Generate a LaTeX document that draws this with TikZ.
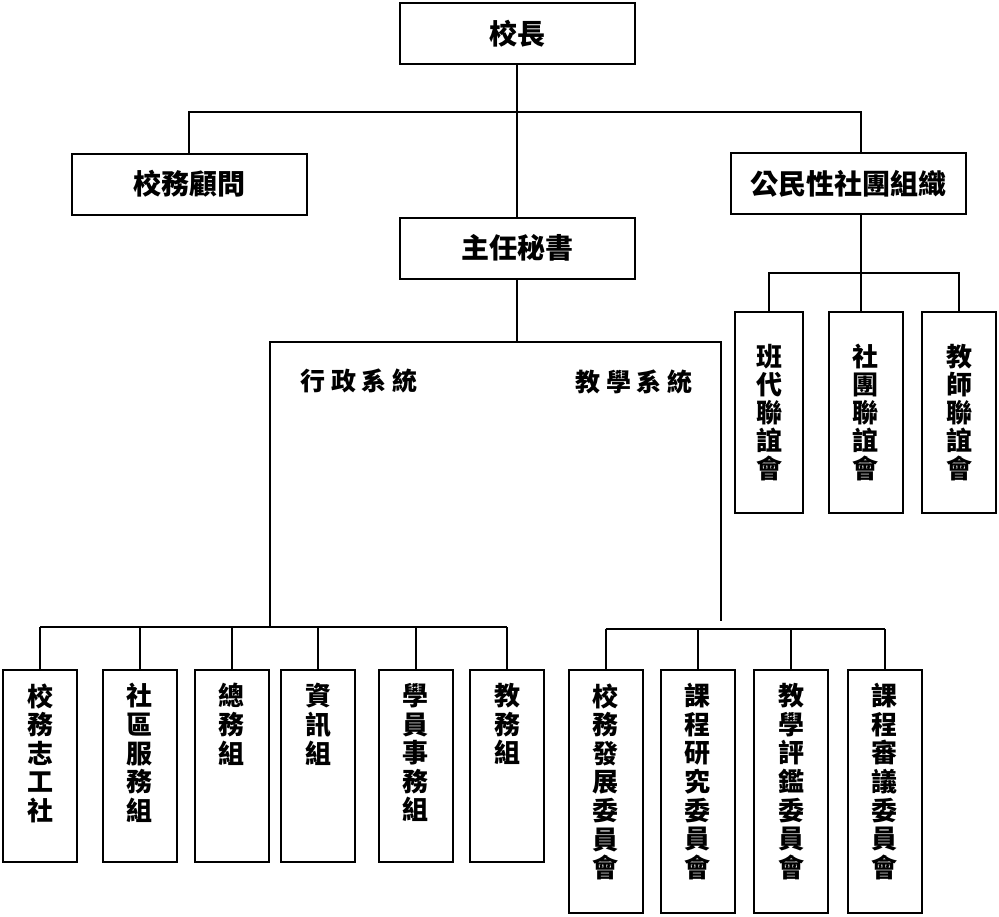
\documentclass[tikz,border=0pt]{standalone}
\usepackage{fontspec}
\usepackage{tikz}
\usetikzlibrary{positioning}
\newfontfamily\cjk{Noto Sans CJK TC}
\newfontfamily\cjksp{Noto Sans CJK TC}[LetterSpace=22]

\begin{document}
\begin{tikzpicture}[
    x=0.5pt, y=-0.5pt,
    box/.style={rectangle, draw, line width=1pt, minimum width=117.5pt, minimum height=30.5pt, inner sep=0pt, font=\cjk\bfseries\fontsize{14pt}{16pt}\selectfont},
    clubbox/.style={rectangle, draw, line width=1pt, minimum width=37pt, minimum height=100.5pt, inner sep=0pt, align=center, font=\cjk\bfseries\fontsize{13pt}{14pt}\selectfont},
    colbox/.style={rectangle, draw, line width=1pt, minimum width=37pt, minimum height=#1, inner sep=0pt},
    coltext/.style={inner sep=0pt, align=center, font=\cjk\bfseries\fontsize{13pt}{14.3pt}\selectfont},
    syslabel/.style={inner sep=0pt, font=\cjksp\bfseries\fontsize{12.5pt}{14pt}\selectfont},
    link/.style={line width=1pt}
]
    \useasboundingbox (0,0) rectangle (999,916);

    % Top level
    \node[box] (pres) at (517,33.5) {校長};
    \node[box] (adv) at (189,184) {校務顧問};
    \node[box] (civic) at (848.5,183.5) {公民性社團組織};
    \node[box] (sec) at (517,248) {主任秘書};

    \coordinate (topbus) at (517,112);
    \draw[link] (pres.south) -- (sec.north);
    \draw[link] (adv.north) |- (topbus) -| ([xshift=6pt]civic.north);

    % Clubs
    \node[clubbox, minimum width=34pt] (banji) at (769,412.5) {班\\代\\聯\\誼\\會};
    \node[clubbox] (tuan) at (865.5,412.5) {社\\團\\聯\\誼\\會};
    \node[clubbox] (jiaoshi) at (959,412.5) {教\\師\\聯\\誼\\會};

    \coordinate (clubbus) at (861,273);
    \draw[link] ([xshift=6pt]civic.south) -- ([xshift=6pt]civic.south |- tuan.north);
    \draw[link] (banji.north) |- (clubbus) -| (jiaoshi.north);

    % Two systems
    \node[syslabel] (adm) at (359,381) {行政系統};
    \node[syslabel] (teach) at (634,382) {教學系統};

    \coordinate (sysL) at (270,342);
    \coordinate (sysR) at (721,342);
    \coordinate (admbus) at (270,627);
    \coordinate (teachend) at (721,621);
    \coordinate (teachbus) at (721,629);
    \draw[link] (sec.south) -- (sec.south |- sysL);
    \draw[link] (admbus) -- (sysL) -- (sysR) -- (teachend);

    % Administration units
    \foreach \nm/\px/\txt in {zhigong/40/{校\\務\\志\\工\\社}, shequ/139.5/{社\\區\\服\\務\\組},
        zongwu/231.5/{總\\務\\組}, zixun/318/{資\\訊\\組}, xueyuan/415.5/{學\\員\\事\\務\\組}, jiaowu/507/{教\\務\\組}} {
        \node[colbox=96pt] (\nm) at (\px,766) {};
        \node[coltext, below=7pt of \nm.north] (\nm-t) {\txt};
        \draw[link] (\nm.north) -- (\nm.north |- admbus);
    }
    \draw[link] (zhigong.north |- admbus) -- (jiaowu.north |- admbus);

    % Teaching committees
    \foreach \nm/\px/\txt in {fazhan/605.5/{校\\務\\發\\展\\委\\員\\會}, yanjiu/697.5/{課\\程\\研\\究\\委\\員\\會},
        pingjian/791/{教\\學\\評\\鑑\\委\\員\\會}, shenyi/884.5/{課\\程\\審\\議\\委\\員\\會}} {
        \node[colbox=121.5pt] (\nm) at (\px,791.5) {};
        \node[coltext, below=7pt of \nm.north] (\nm-t) {\txt};
        \draw[link] (\nm.north) -- (\nm.north |- teachbus);
    }
    \draw[link] (fazhan.north |- teachbus) -- (shenyi.north |- teachbus);
\end{tikzpicture}
\end{document}
